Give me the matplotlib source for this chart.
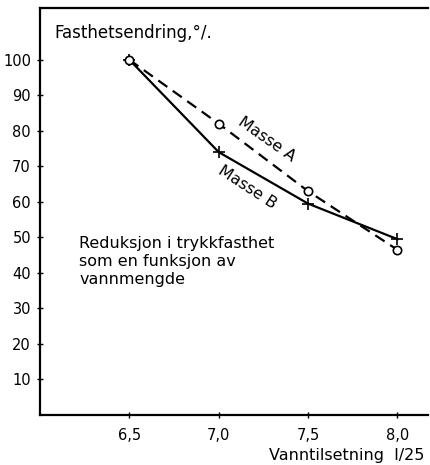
import matplotlib
matplotlib.use("Agg")
import matplotlib.pyplot as plt

# --- data ---
water = [6.5, 7.0, 7.5, 8.0]
masse_a = [100, 82, 63, 46.5]    # dashed, open circles
masse_b = [100, 74, 59.5, 49.5]  # solid, plus markers
yticks = [10, 20, 30, 40, 50, 60, 70, 80, 90, 100]
xticks = [6.5, 7.0, 7.5, 8.0]
xticklabels = ["6,5", "7,0", "7,5", "8,0"]

plt.rcParams['font.family'] = ['DejaVu Sans']

fig = plt.figure(figsize=(4.30, 4.65), dpi=100)
ax = fig.add_axes([0.093, 0.1075, 0.902, 0.8755])

ax.plot(water, masse_b, color='black', lw=1.6, marker='+', ms=8, mew=1.2)
ax.plot(water, masse_a, color='black', lw=1.6, ls=(0, (5, 3)),
        marker='o', ms=6, mfc='white', mew=1.2)

ax.set_xlim(6.0, 8.17)
ax.set_ylim(0, 114.6)
ax.set_yticks(yticks)
ax.set_xticks(xticks)
ax.set_xticklabels(xticklabels)
ax.tick_params(direction='inout', length=5, width=1, labelsize=10.5, pad=4)
ax.tick_params(axis='x', pad=7)

for s in ['left', 'bottom', 'top']:
    ax.spines[s].set_linewidth(1.6)
ax.spines['right'].set_visible(False)

ax.text(6.08, 107.5, "Fasthetsendring,°/.", fontsize=12, va='center')
ax.text(6.22, 50.5, "Reduksjon i trykkfasthet\nsom en funksjon av\nvannmengde",
        fontsize=11.5, va='top', linespacing=1.25)
ax.text(7.27, 77.5, "Masse A", fontsize=11.5, rotation=-35,
        ha='center', va='center')
ax.text(7.16, 64, "Masse B", fontsize=11.5, rotation=-33,
        ha='center', va='center')

fig.text(0.986, 0.004, "Vanntilsetning  l/25", fontsize=11.5,
         ha='right', va='bottom')

fig.savefig("out.png", dpi=100)
